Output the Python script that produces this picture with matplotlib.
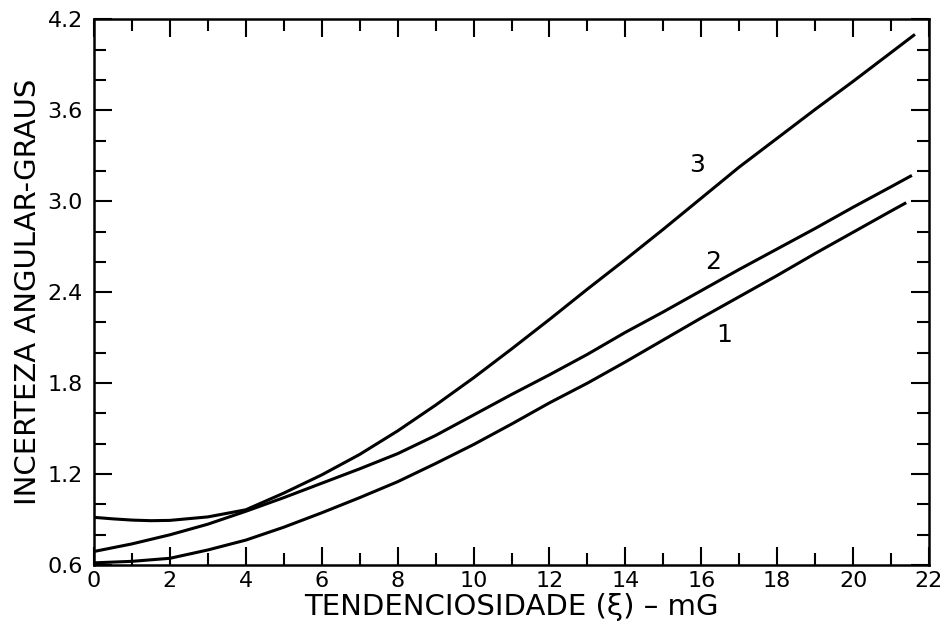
import numpy as np
import matplotlib
matplotlib.use("Agg")
import matplotlib.pyplot as plt
from matplotlib.ticker import MultipleLocator, FormatStrFormatter

# Curves (x in mG, y in degrees)
x1 = [0, 1, 2, 3, 4, 5, 6, 7, 8, 9, 10, 11, 12, 13, 14, 15, 16, 17, 18, 19, 20, 21, 21.4]
y1 = [0.615, 0.625, 0.645, 0.70, 0.765, 0.85, 0.945, 1.045, 1.15, 1.27, 1.395, 1.53,
      1.67, 1.80, 1.94, 2.085, 2.23, 2.37, 2.51, 2.655, 2.795, 2.935, 2.99]

x2 = [0, 1, 2, 3, 4, 5, 6, 7, 8, 9, 10, 11, 12, 13, 14, 15, 16, 17, 18, 19, 20, 21, 21.55]
y2 = [0.69, 0.74, 0.80, 0.87, 0.955, 1.045, 1.14, 1.235, 1.335, 1.455, 1.59, 1.725,
      1.855, 1.99, 2.135, 2.27, 2.41, 2.55, 2.685, 2.82, 2.96, 3.095, 3.17]

x3 = [0, 0.5, 1, 1.5, 2, 3, 4, 5, 6, 7, 8, 9, 10, 11, 12, 13, 14, 15, 16, 17, 18, 19, 20, 21, 21.63]
y3 = [0.915, 0.905, 0.897, 0.893, 0.895, 0.918, 0.965, 1.075, 1.195, 1.33, 1.485, 1.655, 1.835,
      2.025, 2.22, 2.42, 2.615, 2.815, 3.02, 3.225, 3.415, 3.605, 3.79, 3.98, 4.10]

curve_labels = ["1", "2", "3"]
label_x = [16.6, 16.3, 15.9]
label_y = [2.12, 2.60, 3.24]

fig = plt.figure(figsize=(9.44, 6.4), dpi=100)
ax = fig.add_axes([0.0996, 0.117, 0.8845, 0.853])

for xs, ys in [(x1, y1), (x2, y2), (x3, y3)]:
    ax.plot(xs, ys, color="black", linewidth=2.2, solid_capstyle="butt",
            solid_joinstyle="round")

for t, tx, ty in zip(curve_labels, label_x, label_y):
    ax.text(tx, ty, t, fontsize=18, ha="center", va="center")

ax.set_xlim(0, 22)
ax.set_ylim(0.6, 4.2)
ax.xaxis.set_major_locator(MultipleLocator(2))
ax.xaxis.set_minor_locator(MultipleLocator(1))
ax.yaxis.set_major_locator(MultipleLocator(0.6))
ax.yaxis.set_minor_locator(MultipleLocator(0.2))
ax.yaxis.set_major_formatter(FormatStrFormatter("%.1f"))

ax.tick_params(which="both", direction="in", top=True, right=True, width=1.5,
               labelsize=16)
ax.tick_params(which="major", length=13)
ax.tick_params(which="minor", length=8.5)
ax.tick_params(axis="x", which="major", pad=4)
ax.tick_params(axis="y", which="major", pad=8)
for s in ax.spines.values():
    s.set_linewidth(1.8)

ax.set_xlabel("TENDENCIOSIDADE (ξ) – mG", fontsize=21, labelpad=2)
ax.set_ylabel("INCERTEZA ANGULAR-GRAUS", fontsize=21, labelpad=4)

plt.savefig("out.png", dpi=100)
plt.close()
